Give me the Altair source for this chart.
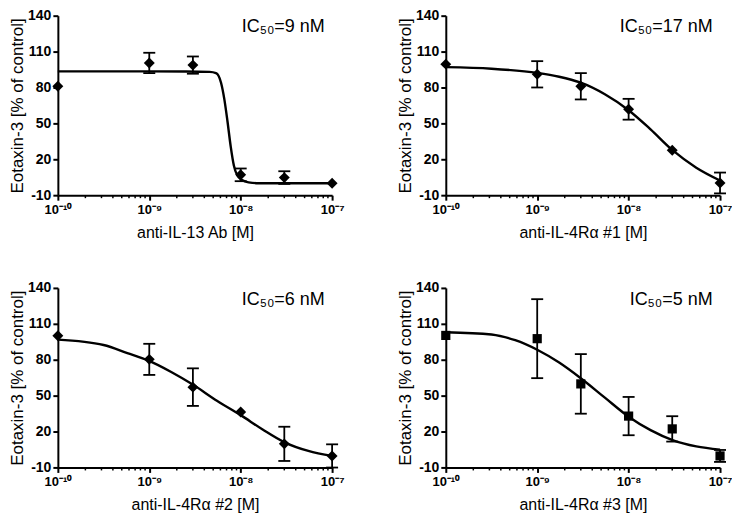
import math
import altair as alt
import pandas as pd

# ---------------- data ----------------
conc = [1e-10, 1e-9, 3e-9, 1e-8, 3e-8, 1e-7]

p1_mean = [81, 100.5, 98.7, 7, 4.7, 0]
p1_err = [0, 8.5, 7.2, 5.3, 5.3, 0]
p2_mean = [99.5, 91, 81, 61.8, 27.6, 0.2]
p2_err = [0, 11, 11, 8.7, 0, 8.7]
p3_mean = [100, 80.3, 57.1, 36.3, 9.7, -0.4]
p3_err = [0, 13, 15.7, 0, 14.3, 9.7]
p4_mean = [100.3, 97.6, 59.8, 32.9, 22.2, -0.4]
p4_err = [0, 33, 24.9, 16, 10.6, 5]

# fitted curves (log10 of concentration, % of control)
c1_logx = [-10, -9, -8.6, -8.34, -8.27, -8.215, -8.18, -8.145, -8.109, -8.074, -8.038, -7.985, -7.914, -7.8, -7]
c1_y = [93.5, 93.5, 93.4, 93, 92, 84, 70.7, 52, 30.6, 14.6, 6.6, 2.6, 0.7, 0, 0]
c2_logx = [-10, -9.5, -9, -8.76, -8.53, -8.26, -8, -7.76, -7.52, -7.26, -7]
c2_y = [97, 95.7, 92.2, 89, 84.2, 74.3, 61, 45, 27.6, 13, 2.3]
c3_logx = [-10, -9.5, -9.24, -9, -8.76, -8.52, -8.26, -8, -7.76, -7.52, -7.26, -7]
c3_y = [96.8, 92.3, 85.6, 79, 69.7, 59, 45.7, 33.7, 21.7, 11, 3.8, -0.4]
c4_logx = [-10, -9.5, -9.24, -9, -8.76, -8.52, -8.26, -8, -7.76, -7.52, -7.26, -7]
c4_y = [103, 101.1, 96.3, 88.3, 77.6, 64.3, 48.3, 32.4, 21.2, 12.9, 7.6, 4.9]

x_titles = ["anti-IL-13 Ab [M]", "anti-IL-4R\u03b1 #1 [M]", "anti-IL-4R\u03b1 #2 [M]", "anti-IL-4R\u03b1 #3 [M]"]
ic50_labels = ["IC\u2085\u2080=9 nM", "IC\u2085\u2080=17 nM", "IC\u2085\u2080=6 nM", "IC\u2085\u2080=5 nM"]
y_title = "Eotaxin-3 [%  of control]"

x_ticks = [1e-10, 1e-9, 1e-8, 1e-7]
x_tick_labels = ["10\u207b\u00b9\u2070", "10\u207b\u2079", "10\u207b\u2078", "10\u207b\u2077"]
y_ticks = [-10, 20, 50, 80, 110, 140]
minor_ticks = [m * 10.0 ** e for e in (-10, -9, -8) for m in range(2, 10)]

# annotation anchor (data coordinates)
ann_x, ann_y = 8.3e-8, 126

# ---------------- layout / style ----------------
W, H = 275, 180
FONT = "Liberation Sans"

label_expr = ""
for v, lab in zip(x_ticks, x_tick_labels):
    label_expr += f"abs(log(datum.value)/LN10 - ({round(math.log10(v))})) < 0.01 ? '{lab}' : "
label_expr += "''"

xscale = alt.Scale(type="log", domain=[1e-10, 1e-7], nice=False, padding=0)
yscale = alt.Scale(domain=[-10, 140], nice=False, zero=False, padding=0)


def xaxis(title):
    return alt.Axis(values=x_ticks, labelExpr=label_expr, title=title, labelFlush=False,
                    labelFontSize=13, labelFontWeight="bold", labelPadding=3,
                    titleFontSize=16, titleFontWeight="normal", titlePadding=8,
                    labelOverlap=False)


yaxis = alt.Axis(values=y_ticks, title=y_title, labelFlush=False, labelFontSize=14,
                 labelExpr="datum.value < 0 ? '-' + abs(datum.value) : '' + datum.value",
                 labelFontWeight="bold", labelPadding=2, titleFontSize=17,
                 titleFontWeight="normal", titlePadding=1, labelOverlap=False)


def panel(mean, err, clogx, cy, xtitle, ic50, shape, size):
    pts = pd.DataFrame({"conc": conc, "mean": mean, "err": err})
    pts["lo"] = pts["mean"] - pts["err"]
    pts["hi"] = pts["mean"] + pts["err"]
    bars = pts[pts["err"] > 0]
    curve = pd.DataFrame({"conc": [10.0 ** v for v in clogx], "y": cy})
    minor = pd.DataFrame({"conc": minor_ticks})

    ax = xaxis(xtitle)
    X = alt.X("conc:Q", scale=xscale, axis=ax)

    line = alt.Chart(curve).mark_line(color="black", strokeWidth=2.4, interpolate="monotone").encode(
        x=X, y=alt.Y("y:Q", scale=yscale, axis=yaxis))
    rule = alt.Chart(bars).mark_rule(color="black", strokeWidth=1.8).encode(
        x=X, y=alt.Y("lo:Q", scale=yscale, axis=yaxis), y2="hi:Q")
    cap_lo = alt.Chart(bars).mark_tick(color="black", orient="horizontal", size=12, thickness=1.8, opacity=1).encode(
        x=X, y=alt.Y("lo:Q", scale=yscale, axis=yaxis))
    cap_hi = alt.Chart(bars).mark_tick(color="black", orient="horizontal", size=12, thickness=1.8, opacity=1).encode(
        x=X, y=alt.Y("hi:Q", scale=yscale, axis=yaxis))
    points = alt.Chart(pts).mark_point(shape=shape, filled=True, size=size, color="black", opacity=1).encode(
        x=X, y=alt.Y("mean:Q", scale=yscale, axis=yaxis))
    minor_rule = alt.Chart(minor).mark_rule(color="black", strokeWidth=1.5).encode(
        x=X, y=alt.value(H), y2=alt.value(H + 3))
    text = alt.Chart(pd.DataFrame({"t": [ic50]})).mark_text(
        align="right", baseline="alphabetic", fontSize=18, font=FONT, color="black").encode(
        x=alt.XDatum(ann_x, type="quantitative", scale=xscale, axis=ax),
        y=alt.YDatum(ann_y, type="quantitative", scale=yscale, axis=yaxis),
        text="t:N")

    return alt.layer(minor_rule, line, rule, cap_lo, cap_hi, points, text).properties(width=W, height=H)


p1 = panel(p1_mean, p1_err, c1_logx, c1_y, x_titles[0], ic50_labels[0], "diamond", 120)
p2 = panel(p2_mean, p2_err, c2_logx, c2_y, x_titles[1], ic50_labels[1], "diamond", 120)
p3 = panel(p3_mean, p3_err, c3_logx, c3_y, x_titles[2], ic50_labels[2], "diamond", 120)
p4 = panel(p4_mean, p4_err, c4_logx, c4_y, x_titles[3], ic50_labels[3], "square", 85)

chart = alt.concat(p1, p2, p3, p4, columns=2, spacing={"row": 93, "column": 114}, bounds="flush").properties(
    padding=0, background="white"
).configure_view(stroke=None).configure_axis(
    domainColor="black", domainWidth=2, tickColor="black", tickWidth=2, tickSize=5, grid=False,
    labelColor="black", titleColor="black", labelFont=FONT, titleFont=FONT, labelOverlap=False
)

chart.save("out.html", embed_options={"renderer": "svg", "actions": False})
